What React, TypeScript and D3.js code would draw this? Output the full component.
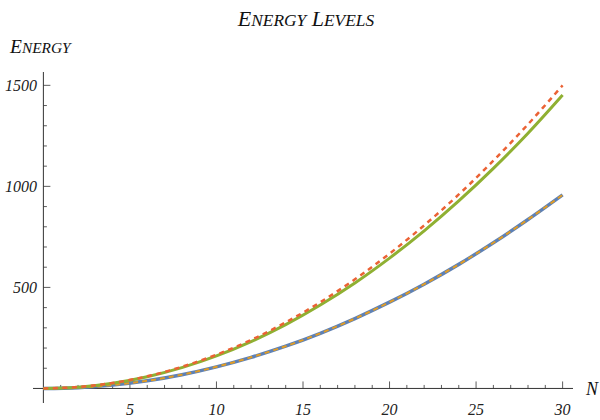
import React from "react";
import * as d3 from "d3";

const nValues = [0, 2, 4, 6, 8, 10, 12, 14, 16, 18, 20, 22, 24, 26, 28, 30];
const blueSolid = [0, 4, 17, 38, 68, 107, 154, 209, 273, 346, 427, 516, 614, 721, 836, 958];
const orangeDashed = [0, 4, 17, 38, 68, 107, 154, 209, 273, 346, 427, 516, 614, 721, 836, 958];
const greenSolid = [0, 6, 26, 58, 103, 161, 232, 316, 413, 522, 645, 780, 928, 1089, 1263, 1452];
const redDashed = [0, 7, 27, 60, 107, 167, 240, 327, 427, 540, 667, 807, 960, 1127, 1307, 1500];

const xTickLabels = [5, 10, 15, 20, 25, 30];
const yTickLabels = [500, 1000, 1500];

const W = 600;
const H = 420;
const FONT = "'Liberation Serif', serif";

function SmallCaps({ text, size, ratio }: { text: string; size: number; ratio: number }) {
  const words = text.split(" ");
  const out: React.ReactNode[] = [];
  words.forEach((w, i) => {
    out.push(
      <tspan key={"a" + i} fontSize={size}>
        {(i > 0 ? " " : "") + w[0]}
      </tspan>
    );
    out.push(
      <tspan key={"b" + i} fontSize={size * ratio}>
        {w.slice(1).toUpperCase()}
      </tspan>
    );
  });
  return <>{out}</>;
}

export default function App() {
  const x = d3.scaleLinear().domain([-0.6, 30.6]).range([33, 573]);
  const y = d3.scaleLinear().domain([-72, 1566]).range([403, 72]);

  const line = (vals: number[]) =>
    d3
      .line<number>()
      .x((_, i) => x(nValues[i]))
      .y((d) => y(d))
      .curve(d3.curveCatmullRom.alpha(0.5))(vals) as string;

  const xMinor = d3.range(1, 31).filter((v) => v % 5 !== 0);
  const yMinor = d3.range(100, 1600, 100).filter((v) => v % 500 !== 0);
  const axisColor = "#333";

  return (
    <svg
      width={W}
      height={H}
      style={{ position: "absolute", left: 0, top: 0, background: "#fff" }}
    >
      <rect width={W} height={H} fill="#fff" />
      {/* title */}
      <text
        x={306}
        y={26}
        textAnchor="middle"
        fontFamily={FONT}
        fontStyle="italic"
        fill="#111"
      >
        <SmallCaps text="Energy Levels" size={22} ratio={0.79} />
      </text>
      {/* y label */}
      <text x={10} y={53} fontFamily={FONT} fontStyle="italic" fill="#111">
        <SmallCaps text="Energy" size={19.5} ratio={0.79} />
      </text>
      {/* x label */}
      <text
        x={586}
        y={395}
        fontFamily={FONT}
        fontStyle="italic"
        fontSize={18}
        fill="#111"
      >
        N
      </text>

      {/* axes */}
      <line x1={x.range()[0]} x2={x.range()[1]} y1={y(0)} y2={y(0)} stroke={axisColor} strokeWidth={1} />
      <line x1={x(0)} x2={x(0)} y1={y.range()[0]} y2={y.range()[1]} stroke={axisColor} strokeWidth={1} />

      {xMinor.map((v) => (
        <line key={"xm" + v} x1={x(v)} x2={x(v)} y1={y(0)} y2={y(0) - 3.5} stroke={axisColor} strokeWidth={0.8} />
      ))}
      {xTickLabels.map((v) => (
        <g key={"xt" + v}>
          <line x1={x(v)} x2={x(v)} y1={y(0)} y2={y(0) - 7} stroke={axisColor} strokeWidth={0.8} />
          <text
            x={x(v)}
            y={415}
            textAnchor="middle"
            fontFamily={FONT}
            fontStyle="italic"
            fontSize={16}
            fill="#222"
          >
            {v}
          </text>
        </g>
      ))}
      {yMinor.map((v) => (
        <line key={"ym" + v} x1={x(0)} x2={x(0) + 3.5} y1={y(v)} y2={y(v)} stroke={axisColor} strokeWidth={0.8} />
      ))}
      {yTickLabels.map((v) => (
        <g key={"yt" + v}>
          <line x1={x(0)} x2={x(0) + 7} y1={y(v)} y2={y(v)} stroke={axisColor} strokeWidth={0.8} />
          <text
            x={37}
            y={y(v)}
            dy="0.35em"
            textAnchor="end"
            fontFamily={FONT}
            fontStyle="italic"
            fontSize={16}
            fill="#222"
          >
            {v}
          </text>
        </g>
      ))}

      {/* series */}
      <path d={line(blueSolid)} fill="none" stroke="#5E81B5" strokeWidth={3.5} />
      <path d={line(orangeDashed)} fill="none" stroke="#E19C24" strokeWidth={2} strokeDasharray="5,4" />
      <path d={line(greenSolid)} fill="none" stroke="#8FB032" strokeWidth={3} />
      <path d={line(redDashed)} fill="none" stroke="#EB6235" strokeWidth={2.5} strokeDasharray="5,4.5" />
    </svg>
  );
}
